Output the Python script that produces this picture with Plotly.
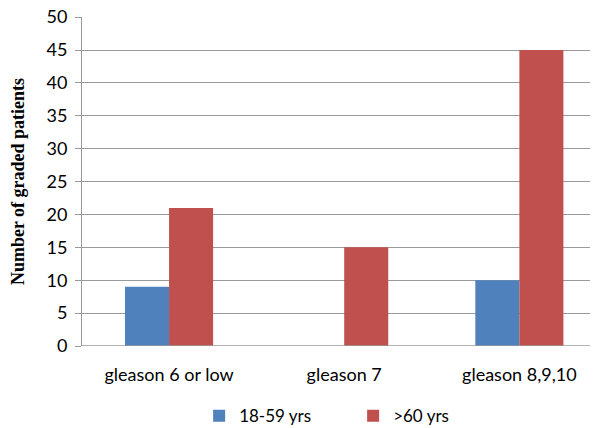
import plotly.graph_objects as go

categories = ["gleason 6 or low", "gleason 7", "gleason 8,9,10"]
young = [9, 0, 10]
old = [21, 15, 45]
series_names = ["18-59 yrs", ">60 yrs"]
y_ticks = [0, 5, 10, 15, 20, 25, 30, 35, 40, 45, 50]

fig = go.Figure()
fig.add_trace(go.Bar(x=[0, 1, 2], y=young, name=series_names[0],
                     marker=dict(color="#4F81BD", line=dict(width=0))))
fig.add_trace(go.Bar(x=[0, 1, 2], y=old, name=series_names[1],
                     marker=dict(color="#C0504D", line=dict(width=0))))

fig.update_layout(
    width=590, height=420,
    margin=dict(l=74, r=0, t=9, b=82, autoexpand=False),
    paper_bgcolor="white", plot_bgcolor="white",
    barmode="group", bargap=0.497, bargroupgap=0,
    font=dict(family="Lato", size=17, color="black"),
    showlegend=True,
    legend=dict(orientation="h", x=0.227, xanchor="left", y=-0.213, yanchor="middle",
                font=dict(family="Lato", size=17), traceorder="normal",
                itemwidth=30, entrywidth=109, entrywidthmode="pixels"),
    xaxis=dict(range=[-0.497, 2.449], tickmode="array", tickvals=[0, 1, 2],
               ticktext=categories, showgrid=False, zeroline=False,
               showline=False, ticks="", ticklabelstandoff=16, automargin=False,
               tickfont=dict(family="Lato", size=18)),
    yaxis=dict(range=[0, 50.02], tickmode="array", tickvals=y_ticks,
               showgrid=True, gridcolor="#9a9a9a", gridwidth=1,
               zeroline=False, showline=True, linecolor="#9a9a9a", linewidth=1,
               ticks="outside", ticklen=6, tickcolor="#9a9a9a",
               ticklabelstandoff=4, automargin=False, ticklabeloverflow="allow",
               tickfont=dict(family="Lato", size=18),
               title=dict(text="<b>Number of graded patients</b>",
                          font=dict(family="Liberation Serif", size=18),
                          standoff=17)),
)
fig.add_shape(type="line", xref="paper", yref="y", x0=0, x1=1, y0=0, y1=0,
              line=dict(color="#9a9a9a", width=1.5))

fig.write_html("out.html")
